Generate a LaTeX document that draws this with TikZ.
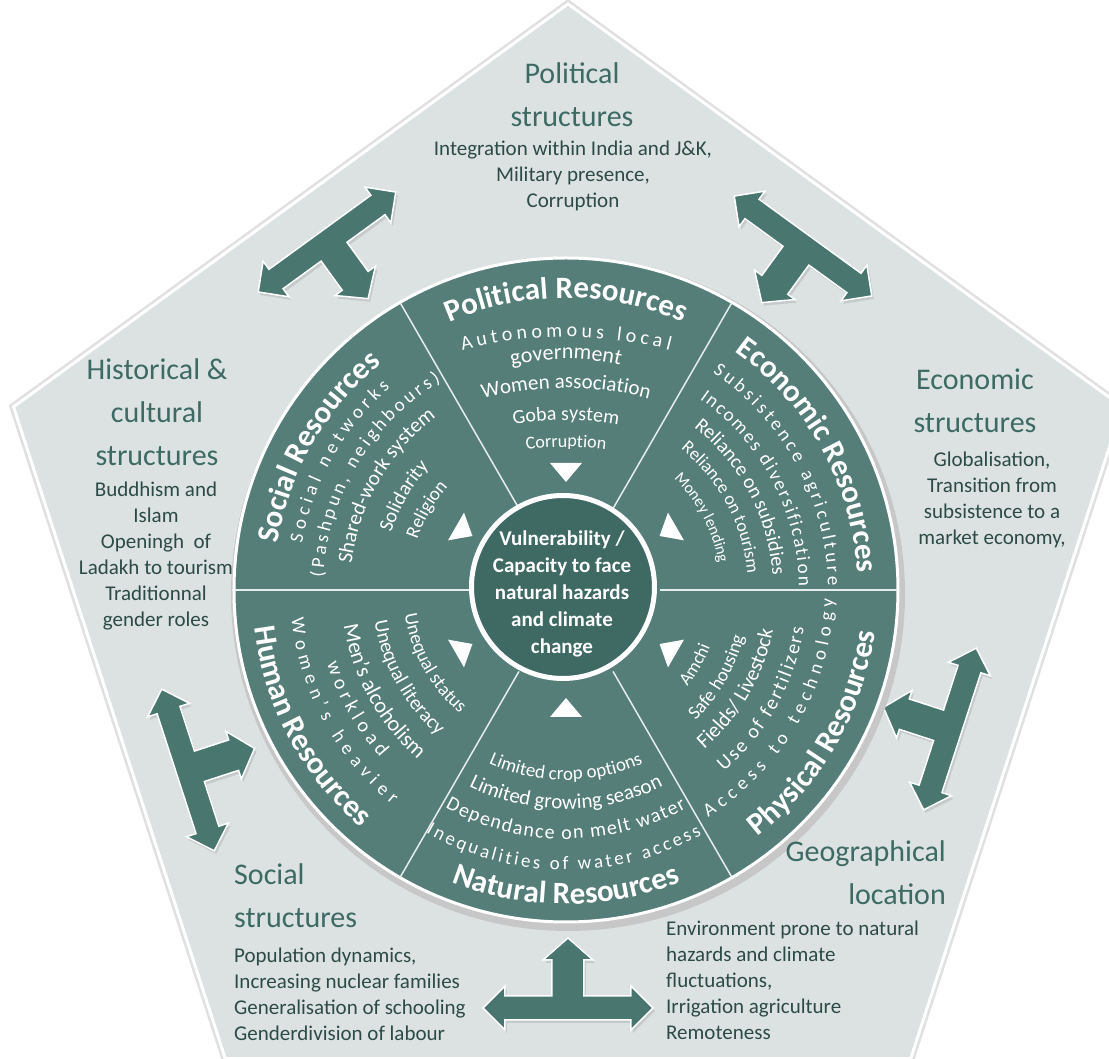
\documentclass[tikz,border=0pt]{standalone}
\usepackage{fontspec}
\setmainfont{Carlito}
\usetikzlibrary{decorations.text, shadows}

\definecolor{pentagrey}{HTML}{DCE2E2}
\definecolor{wheelteal}{HTML}{557E78}
\definecolor{hubteal}{HTML}{3F6A64}
\definecolor{teeteal}{HTML}{497770}
\definecolor{titleteal}{HTML}{3D6A63}
\definecolor{inkteal}{HTML}{2C4A46}

\tikzstyle{stitle}  = [font=\fontsize{30}{43}\selectfont, text=titleteal, inner sep=0pt, align=center]
\tikzstyle{sbody}   = [font=\fontsize{21}{26}\selectfont, text=inkteal, inner sep=0pt, align=center]
\tikzstyle{hub}     = [circle, fill=hubteal, draw=white, line width=5pt, minimum size=183pt, inner sep=0pt]
\tikzstyle{hubtext} = [font=\fontsize{21}{27}\selectfont\bfseries, text=white, inner sep=0pt, align=center]
\tikzstyle{sector}  = [draw=white!85!wheelteal, line width=1.5pt]
\tikzstyle{pointer} = [fill=white]

% double headed T arrow, stem pointing down (towards the wheel)
\tikzset{pics/tee/.style={code={
  \filldraw[fill=teeteal, draw=white, line width=1.5pt,
            drop shadow={opacity=.25, shadow xshift=2pt, shadow yshift=-3pt}]
    (85,0) -- (63,22) -- (63,12) -- (-63,12) -- (-63,22) -- (-85,0) -- (-63,-22) -- (-63,-12)
    -- (-16,-12) -- (-16,-48) -- (-25,-48) -- (0,-70) -- (25,-48) -- (16,-48) -- (16,-12)
    -- (63,-12) -- (63,-22) -- cycle;
}}}

% text bent round the wheel: [align]{radius}{from}{to}{format}{text}
\newcommand{\bendtext}[6][center]{%
  \path[decorate, decoration={text along path, text align={#1}, text color=white,
        text={|#5|#6}}] (#3:#2) arc[start angle=#3, end angle=#4, radius=#2];}
\newcommand{\rimfont}{\fontsize{31}{31}\selectfont\bfseries}
\newcommand{\itemfont}[1]{\fontsize{#1}{#1}\selectfont}

\begin{document}
\begin{tikzpicture}[x=1pt, y=1pt]

\useasboundingbox (-566,-469) rectangle (543,590);
\clip (-566,-469) rectangle (543,590);

%pentagon of structures
\draw [black!12, line width=8pt, shift={(2,3)}]
  (90:583) -- (162:583) -- (234:583) -- (306:583) -- (18:583) -- cycle;
\filldraw [fill=pentagrey, draw=white, line width=3pt, shift={(2,3)}]
  (90:583) -- (162:583) -- (234:583) -- (306:583) -- (18:583) -- cycle;

% T arrows between wheel and structures
\pic [rotate=36]  (teePol) at (-239,348) {tee};
\pic [rotate=-36] (teeEco) at (237,344)  {tee};
\pic [rotate=252] (teeGeo) at (384,-139) {tee};
\pic [rotate=180] (teeNat) at (2,-418)   {tee};
\pic [rotate=108] (teeSoc) at (-378,-180) {tee};

% wheel
\fill [black!22] (2,-4) circle (337);
\filldraw [fill=wheelteal, draw=white, line width=3pt] (0,0) circle (332);
\foreach \a in {0,60,...,300}
  \draw [sector] (\a:94) -- (\a:331);

\node [hub] (hub) at (-3,3) {};
\node [hubtext] (hubT) at (-4,-4)
  {Vulnerability /\\Capacity to face\\natural hazards\\and climate\\change};

\foreach \a in {30,90,...,330}
  \fill [pointer, rotate=\a] (108,0) -- (127,16) -- (127,-16) -- cycle;

% political resources (flatter arches)
\bendtext{292}{119}{61}{\rimfont}{Political Resources}
\begin{scope}[shift={(0,-161)}]
  \bendtext[fit to path]{414}{104.5}{75.5}{\itemfont{20}}{Autonomous local}
\end{scope}
\bendtext{231}{119}{61}{\itemfont{22}}{government}
\begin{scope}[shift={(0,-127)}]
  \bendtext{329}{112}{68}{\itemfont{21}}{Women association}
\end{scope}
\begin{scope}[shift={(0,-130)}]
  \bendtext{300}{110}{70}{\itemfont{20}}{Goba system}
\end{scope}
\begin{scope}[shift={(0,-157)}]
  \bendtext{300}{110}{70}{\itemfont{18}}{Corruption}
\end{scope}

% economic resources
\bendtext{292}{59}{-1}{\rimfont}{Economic Resources}
\bendtext[fit to path]{262}{56}{1}{\itemfont{19}}{Subsistence agriculture}
\bendtext[fit to path]{233}{55}{1}{\itemfont{19}}{Incomes diversification}
\bendtext{207}{58}{-2}{\itemfont{20}}{Reliance on subsidies}
\bendtext{182}{58}{-2}{\itemfont{18}}{Reliance on tourism}
\bendtext{155}{58}{-2}{\itemfont{16}}{Money lending}

% social resources
\bendtext{292}{179}{121}{\rimfont}{Social Resources}
\bendtext[fit to path]{268}{170}{131}{\itemfont{19}}{Social networks}
\bendtext[fit to path]{243}{177}{121}{\itemfont{19}}{(Pashpun, neighbours)}
\bendtext{216}{178}{122}{\itemfont{21}}{Shared-work system}
\bendtext{184}{178}{122}{\itemfont{20}}{Solidarity}
\bendtext{157}{178}{122}{\itemfont{19}}{Religion}

% human resources
\bendtext{314}{179}{237}{\rimfont}{Human Resources}
\bendtext[fit to path]{276}{186}{231}{\itemfont{19}}{Women's heavier}
\bendtext[fit to path]{250}{197}{222}{\itemfont{20}}{workload}
\bendtext{225}{181}{237}{\itemfont{22}}{Men's alcoholism}
\bendtext{194}{181}{237}{\itemfont{20}}{Unequal literacy}
\bendtext{163}{181}{237}{\itemfont{19}}{Unequal status}

% natural resources
\bendtext{314}{241}{299}{\rimfont}{Natural Resources}
\bendtext[fit to path]{280}{240}{299}{\itemfont{19}}{Inequalities of water access}
\bendtext[fit to path]{249}{241}{299}{\itemfont{20}}{Dependance on melt water}
\bendtext{219}{241}{299}{\itemfont{21}}{Limited growing season}
\bendtext{190}{241}{299}{\itemfont{19}}{Limited crop options}

% physical resources
\bendtext{312}{301}{359}{\rimfont}{Physical Resources}
\bendtext[fit to path]{268}{302}{358}{\itemfont{19}}{Access to technology}
\bendtext[fit to path]{241}{311}{351}{\itemfont{20}}{Use of fertilizers}
\bendtext{211}{301}{359}{\itemfont{21}}{Fields/ Livestock}
\bendtext{184}{301}{359}{\itemfont{19}}{Safe housing}
\bendtext{155}{301}{359}{\itemfont{18}}{Amchi}

% structures round the pentagon (base = baseline of the last line)
\node [stitle, anchor=base] (polT) at (6,463) {Political\\structures};
\node [sbody, anchor=base]  (polB) at (7,382)
  {Integration within India and J\&K,\\Military presence,\\Corruption};

\node [stitle, anchor=base] (hisT) at (-409,124) {Historical \&\\cultural\\structures};
\node [sbody, anchor=base]  (hisB) at (-410,-37)
  {Buddhism and\\Islam\\Openingh~ of\\Ladakh to tourism\\Traditionnal\\gender roles};

\node [stitle, anchor=base] (ecoT) at (409,157) {Economic\\structures};
\node [sbody, anchor=base]  (ecoB) at (426,45)
  {Globalisation,\\Transition from\\subsistence to a\\market economy,};

\node [stitle, align=left, anchor=base west] (socT) at (-332,-338) {Social\\structures};
\node [sbody, align=left, anchor=base west]  (socB) at (-332,-451)
  {Population dynamics,\\Increasing nuclear families\\Generalisation of schooling\\Genderdivision of labour};

\node [stitle, align=right, anchor=base east] (geoT) at (380,-315) {Geographical\\location};
\node [sbody, align=left, anchor=base west]   (geoB) at (100,-450)
  {Environment prone to natural\\hazards and climate\\fluctuations,\\Irrigation agriculture\\Remoteness};

\end{tikzpicture}
\end{document}
